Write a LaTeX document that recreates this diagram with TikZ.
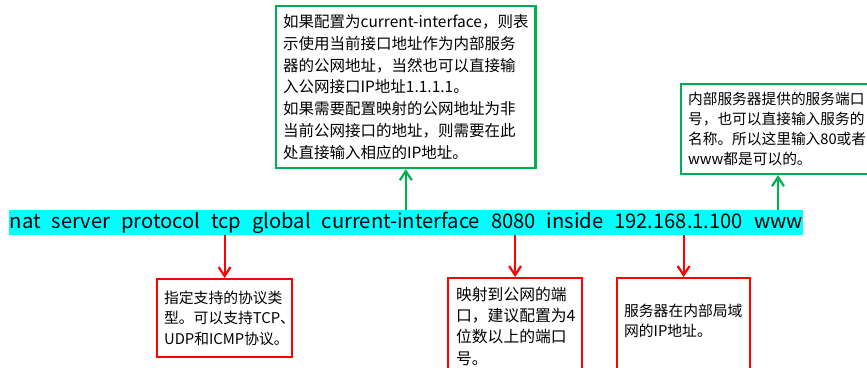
\documentclass[tikz,border=0pt]{standalone}
\usepackage{fontspec}
\setmainfont{Noto Sans CJK SC}
\usetikzlibrary{arrows.meta}
\definecolor{notegreen}{RGB}{0,176,80}
\definecolor{cmdcyan}{RGB}{0,255,255}

\begin{document}
\begin{tikzpicture}[x=1pt, y=-1pt,
    cmdline/.style={fill=cmdcyan, anchor=north west, inner sep=0pt, minimum width=794, minimum height=25, font=\fontsize{20.2}{24}\selectfont},
    greennote/.style={draw=notegreen, line width=2.2pt, anchor=north west, align=left, inner xsep=7pt, font=\fontsize{15.5}{21.8}\selectfont},
    rednote/.style={draw=red, line width=2.2pt, anchor=north west, align=left, inner xsep=7pt, font=\fontsize{14.8}{20.5}\selectfont},
    greenarrow/.style={draw=notegreen, line width=2.2pt, -{Straight Barb[length=9pt,width=12pt]}},
    redarrow/.style={draw=red, line width=2.2pt, -{Straight Barb[length=9pt,width=12pt]}}]
    \useasboundingbox (0,0) rectangle (867,367);
    \clip (0,0) rectangle (867,367);

% command line
    \node[cmdline] (cmd) at (9,210) {\hbox to 793pt{nat\hfill server\hfill protocol\hfill tcp\hfill global\hfill current-interface\hfill 8080\hfill inside\hfill 192.168.1.100\hfill www}};

% notes above
    \node[greennote, minimum width=253, minimum height=162] (ifaceNote) at (275,5) {如果配置为current-interface，则表\\示使用当前接口地址作为内部服务\\器的公网地址，当然也可以直接输\\入公网接口IP地址1.1.1.1。\\如果需要配置映射的公网地址为非\\当前公网接口的地址，则需要在此\\处直接输入相应的IP地址。};
    \node[greennote, text width=186, minimum height=90, font=\fontsize{14.7}{20}\selectfont] (wwwNote) at (680,83) {内部服务器提供的服务端口\\号，也可以直接输入服务的\\名称。所以这里输入80或者\\www都是可以的。};
    \coordinate (wwwTip) at (778,0);

% notes below
    \node[rednote, text width=121, minimum height=78] (tcpNote) at (156,278) {指定支持的协议类\\型。可以支持TCP、\\UDP和ICMP协议。};
    \node[rednote, text width=118, minimum height=96, inner xsep=8pt, font=\fontsize{15.8}{21.3}\selectfont] (portNote) at (447,277) {映射到公网的端\\口，建议配置为4\\位数以上的端口\\号。};
    \node[rednote, text width=119, minimum height=105] (ipNote) at (616,277) {服务器在内部局域\\网的IP地址。\\\mbox{}};

% arrows
    \draw[greenarrow] (cmd.north -| ifaceNote.south) -- (ifaceNote.south);
    \draw[greenarrow] (cmd.north -| wwwTip) -- (wwwNote.south -| wwwTip);
    \draw[redarrow] (cmd.south -| tcpNote.north) -- (tcpNote.north);
    \draw[redarrow] (cmd.south -| portNote.north) -- (portNote.north);
    \draw[redarrow] (cmd.south -| ipNote.north) -- (ipNote.north);
\end{tikzpicture}
\end{document}
